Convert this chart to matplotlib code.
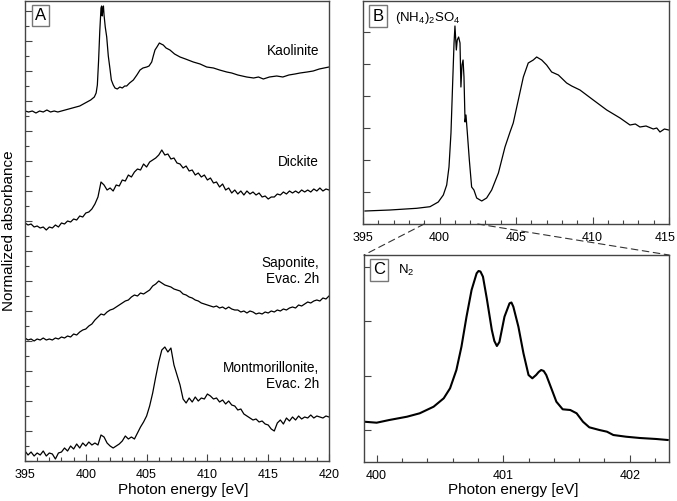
import matplotlib
matplotlib.use("Agg")
import matplotlib.pyplot as plt
from matplotlib.ticker import MultipleLocator, FixedLocator, NullFormatter
from matplotlib.patches import ConnectionPatch

plt.rcParams["font.family"] = ["Liberation Sans", "DejaVu Sans"]
plt.rcParams["mathtext.default"] = "regular"

# ---- panel A : N K-edge spectra of clay minerals (stacked, arbitrary units) ----
kaol_e = [395.0, 395.3, 395.6, 395.9, 396.2, 396.5, 396.8, 397.1, 397.4, 397.7,
          398.0, 398.3, 398.6, 398.9, 399.2, 399.5, 399.8, 400.1, 400.4, 400.7,
          400.85, 400.95, 401.05, 401.15, 401.25, 401.3, 401.35, 401.4, 401.45, 401.5,
          401.6, 401.72, 401.85, 401.99, 402.1, 402.26, 402.4, 402.59, 402.8, 403.0,
          403.2, 403.36, 403.6, 403.91, 404.2, 404.46, 404.7, 405.01, 405.2, 405.42,
          405.55, 405.69, 405.85, 406.05, 406.2, 406.37, 406.6, 406.92, 407.3, 407.75,
          408.2, 408.84, 409.4, 409.94, 410.5, 411.0, 411.59, 412.0, 412.5, 413.23,
          413.8, 414.2, 414.6, 415.1, 415.7, 416.2, 416.7, 417.2, 417.62, 418.2,
          418.7, 419.2, 419.6, 420.0]
kaol_a = [350, 349, 350, 348, 350, 349, 351, 349, 350, 349,
          350, 351, 352, 353, 354, 355, 357, 359, 361, 364,
          368, 376, 400, 430, 453, 455, 445, 452, 455, 446,
          434, 424, 405, 392, 381, 376, 373, 372, 374, 373,
          375, 375, 378, 381, 386, 391, 393, 394, 395, 399,
          405, 411, 414, 418, 417, 416, 413, 411, 407, 404,
          402, 399, 397, 394, 393, 391, 389, 388, 386, 384,
          383, 384, 382, 384, 385, 384, 386, 387, 388, 389,
          390, 392, 393, 394]

grid_e = [395.0, 395.25, 395.5, 395.75, 396.0, 396.25, 396.5, 396.75, 397.0, 397.25,
          397.5, 397.75, 398.0, 398.25, 398.5, 398.75, 399.0, 399.25, 399.5, 399.75,
          400.0, 400.25, 400.5, 400.75, 401.0, 401.25, 401.5, 401.75, 402.0, 402.25,
          402.5, 402.75, 403.0, 403.25, 403.5, 403.75, 404.0, 404.25, 404.5, 404.75,
          405.0, 405.25, 405.5, 405.75, 406.0, 406.25, 406.5, 406.75, 407.0, 407.25,
          407.5, 407.75, 408.0, 408.25, 408.5, 408.75, 409.0, 409.25, 409.5, 409.75,
          410.0, 410.25, 410.5, 410.75, 411.0, 411.25, 411.5, 411.75, 412.0, 412.25,
          412.5, 412.75, 413.0, 413.25, 413.5, 413.75, 414.0, 414.25, 414.5, 414.75,
          415.0, 415.25, 415.5, 415.75, 416.0, 416.25, 416.5, 416.75, 417.0, 417.25,
          417.5, 417.75, 418.0, 418.25, 418.5, 418.75, 419.0, 419.25, 419.5, 419.75,
          420.0]
dick_a = [238, 236, 237, 234, 235, 233, 234, 231, 234, 233,
          236, 234, 238, 237, 240, 239, 242, 241, 245, 244,
          248, 249, 252, 257, 264, 279, 276, 271, 273, 270,
          276, 275, 281, 280, 286, 284, 289, 292, 291, 297,
          294, 299, 301, 303, 306, 311, 306, 307, 302, 303,
          298, 297, 293, 295, 290, 291, 286, 288, 284, 286,
          281, 283, 278, 279, 274, 277, 271, 273, 268, 271,
          267, 270, 266, 270, 267, 269, 266, 268, 264, 265,
          262, 264, 264, 267, 266, 269, 267, 270, 268, 270,
          268, 271, 269, 271, 269, 272, 270, 273, 270, 272,
          271]
sapo_a = [123, 121, 122, 120, 122, 121, 123, 121, 122, 121,
          123, 122, 124, 123, 125, 124, 127, 126, 129, 131,
          132, 135, 137, 141, 144, 147, 146, 149, 151, 152,
          154, 156, 158, 160, 161, 164, 166, 165, 168, 167,
          169, 171, 175, 177, 180, 178, 176, 175, 174, 172,
          171, 170, 167, 166, 164, 163, 161, 160, 158, 157,
          156, 155, 154, 155, 153, 154, 152, 154, 152, 151,
          151, 149, 150, 148, 150, 149, 147, 148, 147, 149,
          148, 150, 149, 151, 150, 152, 151, 153, 154, 153,
          156, 155, 157, 159, 158, 160, 161, 160, 163, 162,
          165]
mont_a = [10, 6, 9, 5, 8, 6, 10, 5, 8, 7,
          2, 8, 9, 13, 10, 15, 12, 17, 13, 18,
          15, 19, 16, 18, 16, 26, 24, 18, 15, 13,
          15, 17, 20, 25, 22, 24, 22, 28, 34, 39,
          45, 55, 68, 84, 99, 111, 114, 109, 113, 96,
          86, 76, 62, 58, 63, 59, 64, 60, 63, 62,
          67, 65, 62, 63, 59, 61, 57, 60, 56, 55,
          51, 52, 47, 45, 43, 41, 42, 39, 40, 37,
          36, 32, 30, 38, 41, 37, 43, 40, 44, 41,
          45, 42, 44, 43, 46, 43, 45, 44, 43, 45,
          44]

a_names = ["Kaolinite", "Dickite", "Saponite,\nEvac. 2h", "Montmorillonite,\nEvac. 2h"]
a_label_y = [0.891, 0.650, 0.413, 0.185]

# ---- panel B : (NH4)2SO4 ----
amsu_e = [395.13, 396.76, 398.51, 399.38, 399.92, 400.25, 400.47, 400.62, 400.75, 400.86,
          400.95, 401.01, 401.1, 401.16, 401.25, 401.34, 401.4, 401.47, 401.54, 401.6,
          401.67, 401.73, 401.82, 401.95, 402.1, 402.25, 402.43, 402.76, 403.08, 403.41,
          403.85, 404.28, 404.61, 404.82, 405.15, 405.48, 405.8, 406.13, 406.35, 406.68,
          407.0, 407.33, 407.77, 408.31, 408.64, 409.18, 410.05, 410.93, 411.8, 412.45,
          412.8, 413.1, 413.5, 413.97, 414.2, 414.41, 414.7, 414.98]
amsu_a = [13, 14, 15.7, 17.3, 22, 29, 39, 57, 91, 141,
          181, 198, 174, 184, 187, 181, 137, 159, 164, 147,
          102, 109, 91, 64, 37, 34, 26, 23, 26, 34,
          51, 77, 92, 101, 124, 147, 161, 164, 167, 164,
          159, 152, 149, 141, 138, 134, 124, 114, 106, 99,
          100, 97, 98, 95, 96, 92, 95, 94]
b_ticks = [395, 400, 405, 410, 415]
b_ticklabels = ["395", "400", "405", "410", ""]   # "415" is placed by hand at the edge

# ---- panel C : N2 ----
n2_e = [399.9, 400.0, 400.1, 400.24, 400.34, 400.45, 400.53, 400.58, 400.63, 400.67,
        400.71, 400.75, 400.79, 400.805, 400.82, 400.84, 400.87, 400.91, 400.93, 400.95,
        400.97, 401.01, 401.05, 401.065, 401.08, 401.12, 401.16, 401.2, 401.23, 401.26,
        401.28, 401.3, 401.32, 401.34, 401.38, 401.42, 401.47, 401.53, 401.58, 401.63,
        401.68, 401.76, 401.82, 401.87, 401.97, 402.08, 402.21, 402.3]
n2_a = [40.3, 39.3, 42, 45.3, 48.7, 55.3, 63.7, 73.7, 92, 115.3,
        145.3, 172, 188.7, 191, 190.5, 185.3, 163.7, 132, 121, 116,
        120, 145.3, 158.7, 159.5, 155.3, 135.3, 108.7, 87, 83.7, 87,
        90, 92, 91, 87, 73.7, 60.3, 52.7, 52, 48.7, 40.3,
        34.7, 32, 30.3, 27, 25.3, 24, 23, 22]

frame = "#444444"
W, H = 677, 501
fig = plt.figure(figsize=(W / 100, H / 100), dpi=100)
axA = fig.add_axes([25 / W, 1 - 461 / H, 304 / W, 460 / H])
axB = fig.add_axes([363 / W, 1 - 224 / H, 306 / W, 223 / H])
axC = fig.add_axes([364 / W, 1 - 462 / H, 305 / W, 207 / H])


def style(ax):
    for s in ax.spines.values():
        s.set_color(frame)
        s.set_linewidth(1.0)
    ax.tick_params(which="both", direction="in", top=False, right=False,
                   color=frame, labelsize=9, pad=6)
    ax.tick_params(which="major", length=5, width=0.8)
    ax.tick_params(which="minor", length=3, width=0.8)
    ax.yaxis.set_major_formatter(NullFormatter())


def tag(ax, letter, x, y, extra=None, sub_x=None):
    ax.text(x, y, letter, transform=ax.transAxes, fontsize=12, ha="left", va="top",
            bbox=dict(boxstyle="square,pad=0.2", fc="white", ec="#777777", lw=1))
    if extra:
        ax.text(sub_x, y - 0.005, extra, transform=ax.transAxes, fontsize=9.5,
                ha="left", va="top")


# panel A
lw = 0.9
axA.plot(kaol_e, kaol_a, color="black", lw=lw)
axA.plot(grid_e, dick_a, color="black", lw=lw)
axA.plot(grid_e, sapo_a, color="black", lw=lw)
axA.plot(grid_e, mont_a, color="black", lw=lw)
axA.set_xlim(395, 420)
axA.set_ylim(0, 460)
axA.xaxis.set_major_locator(MultipleLocator(5))
axA.xaxis.set_minor_locator(MultipleLocator(1))
axA.yaxis.set_major_locator(MultipleLocator(30))
axA.yaxis.set_minor_locator(MultipleLocator(15))
style(axA)
axA.set_xlabel("Photon energy [eV]", fontsize=11)
axA.xaxis.set_label_coords(0.52, -0.048)
axA.set_ylabel("Normalized absorbance", fontsize=11)
axA.yaxis.set_label_coords(-0.028, 0.5)
for name, yy in zip(a_names, a_label_y):
    axA.text(0.967, yy, name, transform=axA.transAxes, fontsize=9.8,
             ha="right", va="center", multialignment="right", linespacing=1.15)
tag(axA, "A", 0.033, 0.985)

# panel B
axB.plot(amsu_e, amsu_a, color="black", lw=lw)
axB.set_xlim(395, 415)
axB.set_ylim(0, 223)
axB.set_xticks(b_ticks, b_ticklabels)
axB.xaxis.set_minor_locator(MultipleLocator(1))
axB.yaxis.set_major_locator(MultipleLocator(32))
style(axB)
tag(axB, "B", 0.03, 0.965, "(NH$_4$)$_2$SO$_4$", 0.105)
fig.text(676 / W, 1 - 238 / H, "415", fontsize=9, ha="right", va="center")

# panel C
axC.plot(n2_e, n2_a, color="black", lw=1.5)
axC.set_xlim(399.9, 402.31)
axC.set_ylim(0, 207)
axC.xaxis.set_major_locator(MultipleLocator(1))
axC.xaxis.set_minor_locator(MultipleLocator(0.2))
axC.yaxis.set_major_locator(FixedLocator([32, 86.5, 141, 195.5]))
style(axC)
axC.set_xlabel("Photon energy [eV]", fontsize=11)
axC.xaxis.set_label_coords(0.49, -0.1)
tag(axC, "C", 0.03, 0.965, "N$_2$", 0.112)

# dashed zoom connectors from B to C
for xb, xc in [(399.0, 0.0), (402.5, 1.0)]:
    con = ConnectionPatch(xyA=(xb, 0), coordsA=axB.transData,
                          xyB=(xc, 1), coordsB=axC.transAxes,
                          color="#333333", lw=0.8, linestyle=(0, (6, 4)))
    fig.add_artist(con)

plt.savefig("out.png", dpi=100)
